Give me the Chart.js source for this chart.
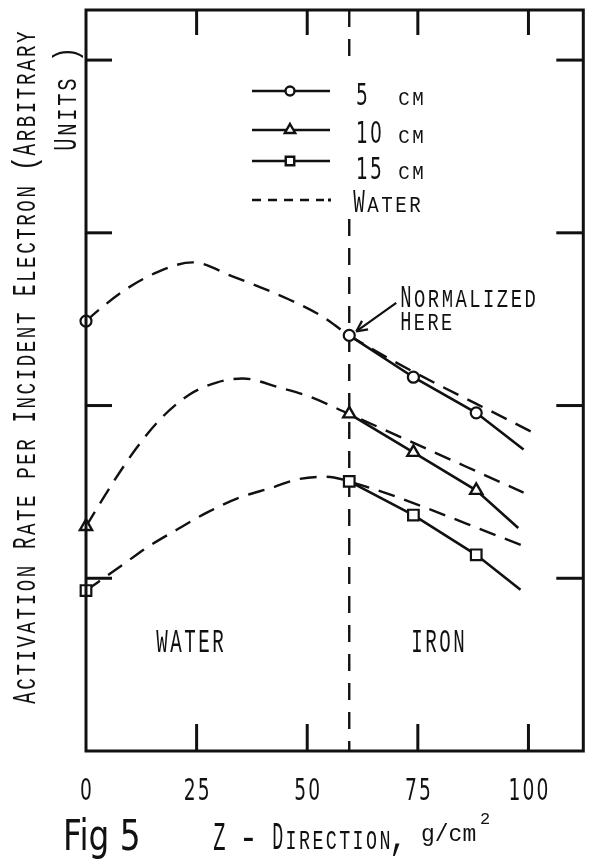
<!DOCTYPE html>
<html><head><meta charset="utf-8">
<script src="https://cdn.jsdelivr.net/npm/chart.js@4"></script>
<style>html,body{margin:0;padding:0;background:#fff;}canvas{display:block;}</style>
</head><body>
<canvas id="c" width="593" height="867"></canvas>
<script>
// ---------- data ----------
const xTickValues = [0, 25, 50, 75, 100];
const xTickLabels = ['0', '25', '50', '75', '100'];
const yTickValues = [1, 2, 3, 4];
const xMin = 0, xMax = 112.4, yMin = 0, yMax = 4.29;
const boundaryZ = 59.5;               // water / iron interface
const boundaryGap = [3.97, 3.08];     // vertical dashed line interrupted by the legend

// measured points (markers)
const depthMeasured = [0, 59.5, 74, 88.2];
const rate5cm  = [2.489, 2.406, 2.164, 1.958];
const rate10cm = [1.300, 1.952, 1.729, 1.509];
const rate15cm = [0.929, 1.561, 1.366, 1.136];

// solid lines in iron
const ironZ5  = [59.5, 74, 88.2, 98.9];
const iron5   = [2.406, 2.164, 1.958, 1.745];
const ironZ10 = [59.5, 74, 88.2, 97.7];
const iron10  = [1.952, 1.729, 1.509, 1.291];
const ironZ15 = [59.5, 74, 88.2, 98.2];
const iron15  = [1.561, 1.366, 1.136, 0.933];

// dashed "water" curves
const waterZ5  = [0, 2.5, 8.3, 16, 24.1, 33.1, 45.9, 53.4, 59.5, 102.3];
const water5   = [2.489, 2.545, 2.661, 2.771, 2.829, 2.748, 2.614, 2.516, 2.406, 1.826];
const waterZ10 = [0, 6.1, 11.5, 16.7, 23.4, 29.5, 35.4, 43.7, 50.5, 59.2, 98.9];
const water10  = [1.300, 1.554, 1.757, 1.919, 2.064, 2.133, 2.157, 2.104, 2.052, 1.954, 1.496];
const waterZ15 = [0, 8.3, 13.7, 20.5, 27.3, 34.7, 42.1, 47.5, 54.3, 59.7, 99.3];
const water15  = [0.929, 1.078, 1.177, 1.281, 1.380, 1.467, 1.525, 1.571, 1.588, 1.559, 1.184];

const seriesNames = ['5 cm', '10 cm', '15 cm', 'Water'];
const markerStyles = ['circle', 'triangle', 'rect'];

// ---------- helpers ----------
const zip = (xs, ys) => xs.map((x, i) => ({x, y: ys[i]}));
const FONT = '"Liberation Mono", "DejaVu Sans Mono", monospace';
const DIGIT_FONT = '"DejaVu Sans", sans-serif';
const capCache = {};
function getCapRatio(ctx, fam) {
  if (capCache[fam]) return capCache[fam];
  ctx.save(); ctx.font = '100px ' + fam;
  const m = ctx.measureText('H');
  const w = ctx.measureText('0').width;
  capCache[fam] = {cap: (m.actualBoundingBoxAscent || 70) / 100, adv: w / 100};
  ctx.restore();
  return capCache[fam];
}
// Leroy-lettering style: uppercase = big caps, lowercase = small caps
function drawLeroy(ctx, text, x, y, o) {
  const n = text.length;
  let start = x;
  if (o.align === 'center') start = x - n * o.pitch / 2;
  const gw = (o.gw || 0.82) * o.pitch;
  for (let i = 0; i < n; i++) {
    const ch = text[i];
    if (ch === ' ') continue;
    const fam = /[0-9]/.test(ch) ? DIGIT_FONT : FONT;
    const met = getCapRatio(ctx, fam);
    const isSmall = ch !== ch.toUpperCase();
    const cap = isSmall ? o.small : o.big;
    const fs = cap / met.cap;
    let sx = gw / (met.adv * fs);
    if (/[,.\-()]/.test(ch)) sx = 0.8;
    ctx.save();
    ctx.font = fs.toFixed(1) + 'px ' + fam;
    ctx.textAlign = 'center'; ctx.textBaseline = 'alphabetic';
    ctx.fillStyle = '#111';
    ctx.translate(start + (i + 0.5) * o.pitch, y);
    ctx.scale(sx, 1);
    ctx.fillText(ch.toUpperCase(), 0, 0);
    ctx.restore();
  }
}

const decor = {
  id: 'decor',
  afterDraw(chart) {
    const ctx = chart.ctx, a = chart.chartArea;
    const xs = chart.scales.x, ys = chart.scales.y;
    ctx.save();
    ctx.strokeStyle = '#111'; ctx.fillStyle = '#111';
    // frame
    ctx.lineWidth = 3;
    ctx.strokeRect(a.left, a.top, a.right - a.left, a.bottom - a.top);
    // ticks (inward)
    ctx.lineCap = 'butt';
    xTickValues.forEach(v => {
      if (v === xMin) return;
      const px = xs.getPixelForValue(v);
      ctx.beginPath(); ctx.moveTo(px, a.bottom); ctx.lineTo(px, a.bottom - 27); ctx.stroke();
      ctx.beginPath(); ctx.moveTo(px, a.top); ctx.lineTo(px, a.top + 25); ctx.stroke();
    });
    yTickValues.forEach(v => {
      const py = ys.getPixelForValue(v);
      ctx.beginPath(); ctx.moveTo(a.left, py); ctx.lineTo(a.left + 26, py); ctx.stroke();
      ctx.beginPath(); ctx.moveTo(a.right, py); ctx.lineTo(a.right - 27, py); ctx.stroke();
    });
    // x tick labels
    xTickValues.forEach((v, i) => {
      drawLeroy(ctx, xTickLabels[i], xs.getPixelForValue(v), 800, {big: 22, small: 16, pitch: 14, gw: 0.85, align: 'center'});
    });
    // region labels
    drawLeroy(ctx, 'WATER', 190, 652, {big: 22, small: 16, pitch: 14, align: 'center'});
    drawLeroy(ctx, 'IRON', 438, 652, {big: 22, small: 16, pitch: 14, align: 'center'});

    // legend
    const rows = [91, 130, 161, 200];
    const lx0 = 252, lx1 = 330, lmx = 290;
    for (let i = 0; i < 3; i++) {
      ctx.setLineDash([]); ctx.lineWidth = 2.6;
      ctx.beginPath(); ctx.moveTo(lx0, rows[i]); ctx.lineTo(lx1, rows[i]); ctx.stroke();
      ctx.fillStyle = '#fff'; ctx.lineWidth = 2.4;
      Chart.helpers.drawPoint(ctx, {pointStyle: markerStyles[i], radius: i === 0 ? 4.5 : 6, rotation: 0, borderWidth: 2.4}, lmx, rows[i]);
      ctx.fillStyle = '#111';
    }
    ctx.lineWidth = 2.4; ctx.setLineDash([9, 7]);
    ctx.beginPath(); ctx.moveTo(lx0, rows[3]); ctx.lineTo(lx1 - 6, rows[3]); ctx.stroke();
    ctx.setLineDash([]);
    ctx.fillRect(lx1 - 2, rows[3] - 1.5, 3, 3);
    const nums = ['5', '10', '15'];
    const bases = [105, 143, 179];
    nums.forEach((n, i) => {
      drawLeroy(ctx, n, 355, bases[i], {big: 22, small: 13, pitch: 14, gw: 0.85});
      drawLeroy(ctx, 'cm', 397, bases[i], {big: 22, small: 14, pitch: 14});
    });
    drawLeroy(ctx, 'Water', 352, 212, {big: 22, small: 15, pitch: 14});

    // "Normalized here" annotation with arrow
    drawLeroy(ctx, 'Normalized', 399, 307, {big: 21, small: 17, pitch: 13.8});
    drawLeroy(ctx, 'Here', 399, 330, {big: 19, small: 16, pitch: 13.6});
    const tipX = xs.getPixelForValue(boundaryZ) + 7, tipY = ys.getPixelForValue(rate5cm[1]) - 4;
    const sX = tipX + 40, sY = tipY - 28.5;
    ctx.lineWidth = 2.2;
    ctx.beginPath(); ctx.moveTo(sX, sY); ctx.lineTo(tipX, tipY); ctx.stroke();
    const ang = Math.atan2(sY - tipY, sX - tipX);
    [0.45, -0.45].forEach(d => {
      ctx.beginPath(); ctx.moveTo(tipX, tipY);
      ctx.lineTo(tipX + 12 * Math.cos(ang + d), tipY + 12 * Math.sin(ang + d)); ctx.stroke();
    });

    // y axis title (rotated)
    ctx.save();
    ctx.translate(35, 705); ctx.rotate(-Math.PI / 2);
    drawLeroy(ctx, 'Activation Rate per Incident Electron (Arbitrary', 0, 0, {big: 22, small: 18, pitch: 14.06});
    ctx.restore();
    ctx.save();
    ctx.translate(76, 152); ctx.rotate(-Math.PI / 2);
    drawLeroy(ctx, 'Units )', 0, 0, {big: 22, small: 18, pitch: 15});
    ctx.restore();

    // x axis title
    drawLeroy(ctx, 'Z', 212, 850, {big: 27, small: 20, pitch: 15});
    drawLeroy(ctx, '-', 241, 850, {big: 27, small: 20, pitch: 15});
    drawLeroy(ctx, 'Direction,', 271, 849, {big: 26, small: 19, pitch: 13.4});
    ctx.fillStyle = '#111';
    ctx.font = '23px ' + FONT; ctx.textAlign = 'left'; ctx.textBaseline = 'alphabetic';
    ctx.fillText('g/cm', 421, 841);
    ctx.font = '17px ' + FONT;
    ctx.fillText('2', 480, 824);

    // figure number
    ctx.save();
    ctx.font = '42px "DejaVu Sans", sans-serif';
    ctx.translate(63, 850); ctx.scale(0.78, 1);
    ctx.fillText('Fig 5', 0, 0);
    ctx.restore();

    ctx.restore();
  }
};

const BLACK = '#111';
const dashW = [17, 10];
const lineBase = {showLine: true, borderColor: BLACK, pointRadius: 0, pointHoverRadius: 0, fill: false};
const markBase = {showLine: false, borderColor: BLACK, backgroundColor: '#fff', clip: false, order: 0};
const datasets = [
  // markers
  {...markBase, label: seriesNames[0], data: zip(depthMeasured, rate5cm), pointStyle: 'circle', pointRadius: 5.5, pointBorderWidth: 2.2},
  {...markBase, label: seriesNames[1], data: zip(depthMeasured, rate10cm), pointStyle: 'triangle', pointRadius: 7, pointBorderWidth: 2.4},
  {...markBase, label: seriesNames[2], data: zip(depthMeasured, rate15cm), pointStyle: 'rect', pointRadius: 7.5, pointBorderWidth: 2.2},
  // iron solid lines
  {...lineBase, label: seriesNames[0] + ' iron', data: zip(ironZ5, iron5), borderWidth: 2.6, tension: 0, order: 1},
  {...lineBase, label: seriesNames[1] + ' iron', data: zip(ironZ10, iron10), borderWidth: 2.6, tension: 0, order: 1},
  {...lineBase, label: seriesNames[2] + ' iron', data: zip(ironZ15, iron15), borderWidth: 2.6, tension: 0, order: 1},
  // water dashed curves
  {...lineBase, label: seriesNames[3] + ' 5', data: zip(waterZ5, water5), borderWidth: 2.4, borderDash: dashW, cubicInterpolationMode: 'monotone', order: 2},
  {...lineBase, label: seriesNames[3] + ' 10', data: zip(waterZ10, water10), borderWidth: 2.4, borderDash: dashW, cubicInterpolationMode: 'monotone', order: 2},
  {...lineBase, label: seriesNames[3] + ' 15', data: zip(waterZ15, water15), borderWidth: 2.4, borderDash: dashW, cubicInterpolationMode: 'monotone', order: 2},
  // boundary
  {...lineBase, label: 'boundary', data: [{x: boundaryZ, y: yMax}, {x: boundaryZ, y: boundaryGap[0]}, {x: boundaryZ, y: null}, {x: boundaryZ, y: boundaryGap[1]}, {x: boundaryZ, y: yMin}],
   borderWidth: 2.4, borderDash: [17, 12], spanGaps: false, tension: 0, order: 3}
];

new Chart(document.getElementById('c'), {
  type: 'scatter',
  data: {datasets},
  options: {
    responsive: false, animation: false, devicePixelRatio: 1,
    layout: {padding: {left: 86, right: 8, top: 10, bottom: 116}},
    plugins: {legend: {display: false}, tooltip: {enabled: false}},
    scales: {
      x: {type: 'linear', min: xMin, max: xMax, display: false},
      y: {type: 'linear', min: yMin, max: yMax, display: false}
    }
  },
  plugins: [decor]
});
</script>
</body></html>
